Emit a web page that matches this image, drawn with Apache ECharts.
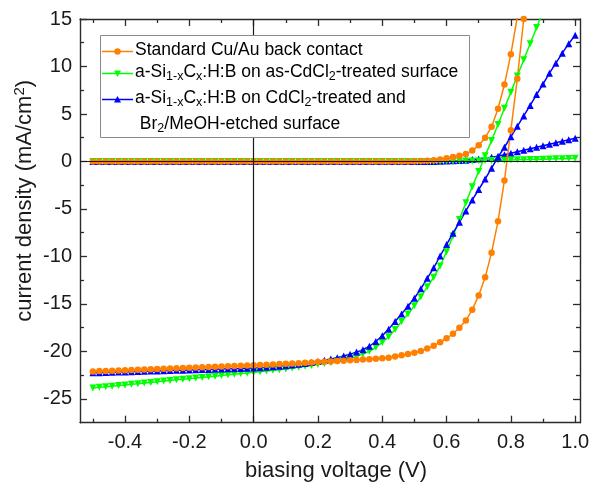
<!DOCTYPE html>
<html><head><meta charset="utf-8">
<script src="https://cdn.jsdelivr.net/npm/echarts@6/dist/echarts.min.js"></script>
<style>html,body{margin:0;padding:0;background:#fff}#c{width:592px;height:487px}</style>
</head><body><div id="c"></div>
<script>
// ---------------- data ----------------
const voltage = [-0.50,-0.48,-0.46,-0.44,-0.42,-0.40,-0.38,-0.36,-0.34,-0.32,-0.30,-0.28,-0.26,-0.24,-0.22,-0.20,-0.18,-0.16,-0.14,-0.12,-0.10,-0.08,-0.06,-0.04,-0.02,0.00,
 0.02,0.04,0.06,0.08,0.10,0.12,0.14,0.16,0.18,0.20,0.22,0.24,0.26,0.28,0.30,0.32,0.34,0.36,0.38,0.40,0.42,0.44,0.46,0.48,0.50,
 0.52,0.54,0.56,0.58,0.60,0.62,0.64,0.66,0.68,0.70,0.72,0.74,0.76,0.78,0.80,0.82,0.84,0.86,0.88,0.90,0.92,0.94,0.96,0.98,1.00];

// Standard Cu/Au back contact (illuminated / dark)
const stdLight = [-22.10,-22.07,-22.05,-22.02,-22.00,-21.97,-21.94,-21.92,-21.89,-21.87,-21.84,-21.81,-21.79,-21.76,-21.74,-21.71,-21.68,-21.66,-21.63,-21.61,-21.58,-21.55,-21.53,-21.50,-21.48,-21.45,
 -21.42,-21.39,-21.36,-21.33,-21.30,-21.26,-21.23,-21.19,-21.16,-21.12,-21.08,-21.05,-21.01,-20.97,-20.93,-20.89,-20.85,-20.81,-20.76,-20.72,
 -20.66,-20.53,-20.40,-20.26,-20.13,-19.95,-19.70,-19.39,-19.03,-18.61,-18.14,-17.50,-16.75,-15.60,-14.10,-12.20,-9.60,-6.30,-2.00,3.30,8.70,15.00,21.50,
 null,null,null,null,null,null,null];
const stdDark = [0,0,0,0,0,0,0,0,0,0,0,0,0,0,0,0,0,0,0,0,0,0,0,0,0,0,0,0,0,0,0,0,0,0,0,0,0,0,0,0,0,0,0,0,0,0,0,0,0,0,
 0.02,0.04,0.07,0.13,0.22,0.35,0.48,0.60,0.78,1.15,1.70,2.50,3.65,5.55,8.10,11.30,15.20,19.80,
 null,null,null,null,null,null,null,null];

// a-Si1-xCx:H:B on as-CdCl2-treated surface
const asLight = [-23.85,-23.78,-23.72,-23.65,-23.59,-23.52,-23.45,-23.39,-23.32,-23.26,-23.19,-23.12,-23.06,-22.99,-22.93,-22.86,-22.79,-22.73,-22.66,-22.60,-22.53,-22.46,-22.40,-22.33,-22.27,-22.20,
 -22.13,-22.06,-21.99,-21.92,-21.85,-21.75,-21.65,-21.56,-21.47,-21.38,-21.27,-21.16,-21.04,-20.89,-20.72,-20.52,-20.28,-19.98,-19.56,-19.05,
 -18.45,-17.70,-16.85,-16.05,-15.20,-14.25,-13.20,-12.20,-11.00,-9.50,-7.85,-6.10,-4.35,-2.65,-1.05,0.60,2.20,3.90,5.60,7.30,9.00,10.70,12.40,14.10,15.80,
 null,null,null,null,null];
const asDark = [0,0,0,0,0,0,0,0,0,0,0,0,0,0,0,0,0,0,0,0,0,0,0,0,0,0,0,0,0,0,0,0,0,0,0,0,0,0,0,0,0,0,0,0,0,0,0,0,0,0,0,0,0,0,0,
 0.02,0.03,0.04,0.05,0.06,0.08,0.10,0.11,0.13,0.14,0.16,0.18,0.19,0.21,0.22,0.24,0.26,0.28,0.30,0.32,0.34];

// a-Si1-xCx:H:B on CdCl2-treated and Br2/MeOH-etched surface
const etchLight = [-22.25,-22.23,-22.21,-22.19,-22.17,-22.15,-22.13,-22.11,-22.09,-22.07,-22.05,-22.03,-22.01,-21.99,-21.97,-21.95,-21.93,-21.91,-21.89,-21.87,-21.85,-21.83,-21.81,-21.79,-21.77,-21.75,
 -21.71,-21.66,-21.61,-21.56,-21.50,-21.43,-21.35,-21.26,-21.16,-21.05,-20.93,-20.80,-20.65,-20.48,-20.29,-20.07,-19.82,
 -19.45,-18.95,-18.35,-17.65,-16.85,-16.05,-15.25,-14.40,-13.40,-12.30,-11.20,-9.95,-8.75,-7.55,-6.40,-5.20,-4.05,-2.95,-1.85,-0.70,0.45,1.50,2.60,3.70,4.80,5.90,7.05,8.15,9.30,10.35,11.40,12.40,13.30];
const etchDark = [0,0,0,0,0,0,0,0,0,0,0,0,0,0,0,0,0,0,0,0,0,0,0,0,0,0,0,0,0,0,0,0,0,0,0,0,0,0,0,0,0,0,0,0,0,0,0,0,0,0,0,0,0,0,
 0.02,0.04,0.07,0.10,0.14,0.20,0.27,0.35,0.44,0.55,0.70,0.86,1.02,1.18,1.34,1.50,1.66,1.82,1.97,2.13,2.29,2.44];

const xTickLabels = ['-0.4','-0.2','0.0','0.2','0.4','0.6','0.8','1.0'];
const yTickLabels = ['-25','-20','-15','-10','-5','0','5','10','15'];

// ---------------- layout ----------------
const W = 592, H = 487;
const FONT = '"Liberation Sans", Arial, Helvetica, sans-serif';
const AX = '#2b2b2b';
const gL = 80, gR = 12, gT = 19, gB = 64.3;
const xMin = -0.54, xMax = 1.015, yMin = -27.5, yMax = 15;
const sx = (W - gL - gR) / (xMax - xMin);
const sy = (H - gT - gB) / (yMax - yMin);
const px = v => gL + (v - xMin) * sx;
const py = v => gT + (yMax - v) * sy;

const C_OR = '#ff8000', C_GR = '#00ff00', C_BL = '#0000ff';

function frameAxis(extra) {
  return Object.assign({
    type: 'value', axisLine: {show: true, onZero: false, lineStyle: {color: AX, width: 1.4}},
    axisTick: {show: false}, axisLabel: {show: false}, splitLine: {show: false}
  }, extra);
}
function tickAxis(extra, len, labels) {
  return Object.assign({
    type: 'value', axisLine: {show: false, onZero: false},
    axisTick: {show: true, inside: true, length: len, lineStyle: {color: AX, width: 1.3}},
    axisLabel: labels || {show: false}, splitLine: {show: false}
  }, extra);
}
const hid = (gi) => ({type: 'value', gridIndex: gi, show: false, min: 0, max: 1});

const labelStyle = {fontFamily: FONT, fontSize: 20, color: '#1a1a1a'};

const grids = [
  {left: gL, right: gR, top: gT, bottom: gB},
  {left: px(-0.4), right: W - px(1.0), top: gT, bottom: gB},
  {left: px(-0.5), right: W - px(0.9), top: gT, bottom: gB},
  {left: gL, right: gR, top: gT, bottom: H - py(-25)},
  {left: gL, right: gR, top: py(12.5), bottom: H - py(-22.5)}
].map(g => Object.assign({outerBoundsMode: 'none', containLabel: false}, g));

const xAxes = [
  frameAxis({gridIndex: 0, position: 'bottom', min: xMin, max: xMax,
    name: 'biasing voltage (V)', nameLocation: 'middle', nameGap: 37,
    nameTextStyle: {fontFamily: FONT, fontSize: 22, color: '#1a1a1a', padding: [0, 0, 0, 12]}}),
  frameAxis({gridIndex: 0, position: 'top', min: xMin, max: xMax}),
  tickAxis({gridIndex: 1, position: 'bottom', min: -0.4, max: 1.0, interval: 0.2}, 7,
    Object.assign({show: true, margin: 10, formatter: v => xTickLabels[Math.round((v + 0.4) / 0.2)]}, labelStyle)),
  tickAxis({gridIndex: 1, position: 'top', min: -0.4, max: 1.0, interval: 0.2}, 7),
  tickAxis({gridIndex: 2, position: 'bottom', min: -0.5, max: 0.9, interval: 0.2}, 4),
  tickAxis({gridIndex: 2, position: 'top', min: -0.5, max: 0.9, interval: 0.2}, 4),
  hid(3), hid(4)
];
const yAxes = [
  frameAxis({gridIndex: 0, position: 'left', min: yMin, max: yMax,
    name: 'current density (mA/cm{sup|2})', nameLocation: 'middle', nameGap: 42,
    nameTextStyle: {fontFamily: FONT, fontSize: 22, color: '#1a1a1a', lineHeight: 26, padding: [0, 0, 0, 40],
      rich: {sup: {fontFamily: FONT, fontSize: 15, lineHeight: 15, verticalAlign: 'top', color: '#1a1a1a'}}}}),
  frameAxis({gridIndex: 0, position: 'right', min: yMin, max: yMax}),
  hid(1), hid(2),
  tickAxis({gridIndex: 3, position: 'left', min: -25, max: 15, interval: 5}, 7,
    Object.assign({show: true, margin: 8, formatter: v => yTickLabels[Math.round((v + 25) / 5)]}, labelStyle)),
  tickAxis({gridIndex: 3, position: 'right', min: -25, max: 15, interval: 5}, 7),
  tickAxis({gridIndex: 4, position: 'left', min: -22.5, max: 12.5, interval: 5}, 4),
  tickAxis({gridIndex: 4, position: 'right', min: -22.5, max: 12.5, interval: 5}, 4)
];

const pairs = arr => voltage.map((v, i) => [v, arr[i]]);
function mk(name, arr, color, symbol, size, rot, z, extra) {
  return Object.assign({
    name, type: 'line', xAxisIndex: 0, yAxisIndex: 0, data: pairs(arr),
    symbol, symbolSize: size, symbolRotate: rot || 0, showSymbol: true, clip: true,
    lineStyle: {color, width: 1.5}, itemStyle: {color, borderWidth: 0},
    animation: false, silent: true, z
  }, extra || {});
}

const series = [
  mk('etchDark', etchDark, C_BL, 'triangle', 7, 0, 2, {
    markLine: {silent: true, symbol: 'none', label: {show: false}, animation: false,
      lineStyle: {color: '#1a1a1a', width: 1.2, type: 'solid'},
      emphasis: {disabled: true},
      data: [{xAxis: 0}, {yAxis: 0}]}
  }),
  mk('asDark', asDark, C_GR, 'triangle', 7, 180, 2),
  mk('stdDark', stdDark, C_OR, 'circle', 6.5, 0, 2),
  mk('asLight', asLight, C_GR, 'triangle', 7, 180, 3),
  mk('etchLight', etchLight, C_BL, 'triangle', 7, 0, 3),
  mk('stdLight', stdLight, C_OR, 'circle', 6.5, 0, 3)
];

// ---------------- legend (graphic) ----------------
const legRich = {
  n: {fontFamily: FONT, fontSize: 17.5, lineHeight: 22, color: '#1a1a1a', verticalAlign: 'middle'},
  s: {fontFamily: FONT, fontSize: 12.5, lineHeight: 12, color: '#1a1a1a', verticalAlign: 'bottom'}
};
const legendEntries = [
  {text: '{n|Standard Cu/Au back contact}', y: 50.5, color: C_OR, mark: 'circle'},
  {text: '{n|a-Si}{s|1-x}{n|C}{s|x}{n|:H:B on as-CdCl}{s|2}{n|-treated surface}', y: 72.5, color: C_GR, mark: 'down'},
  {text: '{n|a-Si}{s|1-x}{n|C}{s|x}{n|:H:B on CdCl}{s|2}{n|-treated and}', y: 98.5, color: C_BL, mark: 'up'},
  {text: '{n| Br}{s|2}{n|/MeOH-etched surface}', y: 124.5, color: null}
];
const graphic = [{
  type: 'rect', z: 50, silent: true,
  shape: {x: 100.5, y: 35.5, width: 369, height: 102},
  style: {fill: '#fff', stroke: '#8a8a8a', lineWidth: 1}
}];
legendEntries.forEach(e => {
  graphic.push({type: 'text', z: 52, silent: true,
    style: {x: 135, y: e.y, text: e.text, rich: legRich, verticalAlign: 'middle', align: 'left'}});
  if (e.color) {
    graphic.push({type: 'line', z: 51, silent: true,
      shape: {x1: 102, y1: e.y + 1, x2: 133, y2: e.y + 1}, style: {stroke: e.color, lineWidth: 1.5}});
    const cx = 117.5, cy = e.y + 1;
    if (e.mark === 'circle') {
      graphic.push({type: 'circle', z: 52, silent: true, shape: {cx, cy, r: 3.2}, style: {fill: e.color}});
    } else if (e.mark === 'down') {
      graphic.push({type: 'polygon', z: 52, silent: true,
        shape: {points: [[cx - 3.5, cy - 3], [cx + 3.5, cy - 3], [cx, cy + 3.5]]}, style: {fill: e.color}});
    } else {
      graphic.push({type: 'polygon', z: 52, silent: true,
        shape: {points: [[cx - 3.5, cy + 3], [cx + 3.5, cy + 3], [cx, cy - 3.5]]}, style: {fill: e.color}});
    }
  }
});

const chart = echarts.init(document.getElementById('c'), null, {renderer: 'canvas', width: W, height: H});
chart.setOption({
  backgroundColor: '#ffffff',
  animation: false,
  grid: grids,
  xAxis: xAxes,
  yAxis: yAxes,
  series,
  graphic
});
</script></body></html>
